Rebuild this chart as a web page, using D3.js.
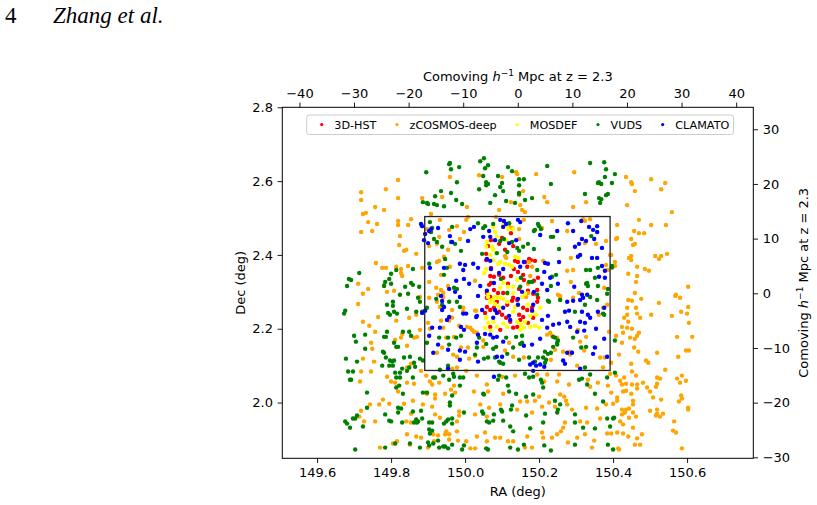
<!DOCTYPE html>
<html>
<head>
<meta charset="utf-8">
<title>COSMOS spectroscopic surveys</title>
<script src="https://cdnjs.cloudflare.com/ajax/libs/d3/7.8.5/d3.min.js"></script>
<style>
  body { margin: 0; background: #fff; }
  svg { display: block; }
  .tick text { font-family: "DejaVu Sans", sans-serif; font-size: 13px; fill: #000; }
  .tick line { stroke: #000; stroke-width: 0.9; }
</style>
</head>
<body>
<script>
// axis limits and ticks
const raLim = [149.506, 150.779];
const decLim = [1.849, 2.8];
const mpcXLim = [-43.14, 43.14];
const mpcYLim = [-30.18, 34.02];
const raTicks = [149.6, 149.8, 150.0, 150.2, 150.4, 150.6];
const decTicks = [2.0, 2.2, 2.4, 2.6, 2.8];
const mpcXTicks = [-40, -30, -20, -10, 0, 10, 20, 30, 40];
const mpcYTicks = [-30, -20, -10, 0, 10, 20, 30];
const boxRA = [149.891, 150.392];
const boxDec = [2.087, 2.504];

const surveys = ["3D-HST", "zCOSMOS-deep", "MOSDEF", "VUDS", "CLAMATO"];
const colors = ["#ff0000", "#ffa500", "#ffff00", "#008000", "#0000ff"];

// [RA, Dec] per survey
const hst3d = [[150.124,2.459],[150.100,2.446],[150.092,2.430],[150.070,2.440],[150.062,2.424],[150.130,2.424],[150.108,2.414],[150.057,2.403],[150.057,2.386],[150.068,2.343],[150.070,2.365],[150.078,2.341],[150.092,2.346],[150.103,2.338],[150.070,2.324],[150.065,2.319],[150.078,2.305],[150.089,2.297],[150.135,2.384],[150.143,2.381],[150.162,2.381],[150.173,2.389],[150.178,2.386],[150.189,2.384],[150.168,2.368],[150.132,2.362],[150.143,2.354],[150.157,2.346],[150.124,2.343],[150.116,2.322],[150.186,2.330],[150.197,2.338],[150.195,2.305],[150.170,2.303],[150.184,2.295],[150.059,2.297],[150.068,2.286],[150.103,2.297],[150.130,2.284],[150.146,2.308],[150.159,2.332],[150.059,2.284],[150.073,2.278],[150.086,2.273],[150.059,2.259],[150.054,2.243],[150.068,2.251],[150.078,2.257],[150.092,2.246],[150.100,2.238],[150.114,2.265],[150.127,2.276],[150.141,2.278],[150.157,2.257],[150.168,2.251],[150.157,2.232],[150.195,2.273],[150.197,2.284],[150.122,2.219],[150.130,2.203],[150.141,2.205],[150.095,2.197],[150.068,2.205],[150.181,2.257],[150.184,2.230],[150.170,2.216],[150.149,2.224],[150.146,2.238],[150.111,2.230]];

const zcosmos = [[149.959,2.611],[149.819,2.603],[150.038,2.616],[149.786,2.578],[149.719,2.570],[149.719,2.549],[149.819,2.554],[149.884,2.554],[149.938,2.557],[149.757,2.530],[149.781,2.522],[149.732,2.514],[149.724,2.511],[150.005,2.530],[149.908,2.511],[149.854,2.497],[149.819,2.492],[149.738,2.489],[149.762,2.484],[149.819,2.481],[149.846,2.481],[150.003,2.495],[150.008,2.503],[149.749,2.465],[149.719,2.462],[149.897,2.470],[149.932,2.495],[149.957,2.468],[149.978,2.478],[149.997,2.462],[149.930,2.449],[149.824,2.451],[149.986,2.443],[149.822,2.427],[149.924,2.430],[149.903,2.424],[149.841,2.414],[149.835,2.411],[149.868,2.403],[149.954,2.414],[149.943,2.395],[149.930,2.384],[149.924,2.381],[149.959,2.368],[149.759,2.378],[149.846,2.370],[149.776,2.365],[149.786,2.365],[149.814,2.368],[149.827,2.362],[149.827,2.351],[149.830,2.343],[149.935,2.346],[149.884,2.365],[149.903,2.327],[150.027,2.330],[149.711,2.322],[149.738,2.308],[149.808,2.303],[149.781,2.319],[149.789,2.300],[149.724,2.295],[149.922,2.311],[149.935,2.305],[149.941,2.297],[149.954,2.316],[149.927,2.292],[149.941,2.286],[149.903,2.284],[149.878,2.286],
[150.100,2.611],[150.138,2.624],[150.141,2.619],[150.192,2.619],[150.295,2.624],[150.157,2.573],[150.146,2.562],[150.124,2.543],[150.149,2.535],[150.214,2.557],[150.222,2.543],[150.327,2.543],[150.292,2.530],[150.092,2.522],[150.154,2.522],[150.162,2.516],[150.084,2.503],[150.159,2.495],[150.235,2.492],[150.319,2.497],[150.324,2.492],[150.338,2.497],[150.208,2.473],[150.276,2.465],[150.324,2.432],[150.354,2.430],[150.381,2.438],[150.286,2.392],[150.292,2.359],[150.276,2.357],[150.381,2.373],[150.408,2.443],[150.411,2.481],[150.392,2.400],[150.386,2.359],[150.251,2.292],[150.257,2.286],[150.286,2.327],[150.308,2.297],[150.376,2.311],[150.170,2.297],[150.127,2.473],[150.119,2.478],[150.146,2.470],[150.146,2.443],[150.211,2.384],[150.173,2.381],[150.181,2.368],[150.108,2.397],[150.111,2.392],[150.170,2.322],[150.176,2.343],[150.165,2.286],
[150.435,2.611],[150.449,2.597],[150.451,2.592],[150.503,2.605],[150.541,2.595],[150.459,2.573],[150.530,2.578],[150.438,2.535],[150.559,2.516],[150.470,2.495],[150.503,2.481],[150.543,2.481],[150.457,2.465],[150.470,2.459],[150.484,2.459],[150.411,2.446],[150.449,2.443],[150.459,2.430],[150.454,2.427],[150.395,2.400],[150.449,2.397],[150.443,2.392],[150.449,2.386],[150.514,2.397],[150.530,2.397],[150.524,2.389],[150.546,2.403],[150.405,2.381],[150.405,2.370],[150.465,2.368],[150.486,2.362],[150.497,2.357],[150.441,2.349],[150.465,2.343],[150.462,2.327],[150.603,2.314],[150.459,2.297],[150.570,2.292],[150.581,2.284],[150.476,2.281],[150.441,2.278],
[149.711,2.267],[149.765,2.232],[149.814,2.222],[149.868,2.238],[149.849,2.230],[149.724,2.219],[149.741,2.208],[149.757,2.192],[149.830,2.186],[149.827,2.176],[149.878,2.197],[149.870,2.178],[149.862,2.176],[149.746,2.162],[149.749,2.146],[149.811,2.170],[149.843,2.154],[149.724,2.119],[149.754,2.111],[149.854,2.105],[149.843,2.095],[149.881,2.086],[149.719,2.084],[149.746,2.084],[149.716,2.057],[149.789,2.070],[149.800,2.057],[149.811,2.054],[149.843,2.054],[149.862,2.051],[149.895,2.073],[149.905,2.057],[149.911,2.049],[149.930,2.054],[149.892,2.027],[149.897,2.024],[149.819,2.030],[149.919,2.022],[149.919,2.011],[149.946,2.024],[149.962,2.035],[149.970,2.046],[149.973,2.027],[149.778,2.008],[149.743,1.995],[149.768,1.995],[149.795,1.997],[149.835,1.997],[149.886,1.995],[149.859,2.005],[149.719,1.978],[149.714,1.962],[149.727,1.949],[149.757,1.949],[149.854,1.970],[149.841,1.949],[149.854,1.946],[149.911,1.989],[149.932,1.959],[149.919,1.968],[149.984,1.976],[149.984,1.965],[149.978,1.949],[149.949,1.922],[149.946,1.914],[149.927,1.911],[149.957,1.914],[149.978,1.922],[149.843,1.914],[149.868,1.908],[149.881,1.905],[149.914,1.914],[149.816,1.895],[149.805,1.889],[149.851,1.886],[149.916,1.895],[149.957,1.900],[149.981,1.897],[149.770,1.878],[149.900,1.878],[150.003,1.895],[150.014,1.876],[150.032,1.908],[150.024,2.030],[150.030,2.249],[149.995,2.257],[149.965,2.230],[149.935,2.222],[149.941,2.203],[150.005,2.205],[150.014,2.203],[149.900,2.216],[149.905,2.200],[149.949,2.176],[149.970,2.178],[149.968,2.130],[149.978,2.124],[150.011,2.119],[150.027,2.127],[149.938,2.149],[149.924,2.135],[149.989,2.149],[150.008,2.149],[149.965,2.092],[149.978,2.095],[150.003,2.086],[149.924,2.273],[149.932,2.259],[149.995,2.246],[149.965,2.251],[149.957,2.222],[149.984,2.208],[150.024,2.192],[150.032,2.189],
[150.027,2.249],[150.019,2.197],[150.049,2.168],[150.049,2.151],[150.119,2.162],[150.108,2.141],[150.130,2.124],[150.159,2.122],[150.235,2.181],[150.249,2.176],[150.243,2.143],[150.265,2.138],[150.284,2.138],[150.284,2.130],[150.322,2.141],[150.311,2.165],[150.327,2.178],[150.365,2.122],[150.378,2.122],[150.373,2.257],[150.384,2.265],[150.292,2.284],[150.338,2.286],[150.362,2.238],[150.389,2.192],[150.305,2.197],[150.303,2.100],[150.373,2.095],[150.230,2.189],[150.222,2.184],[150.232,2.116],[150.100,2.070],[150.257,2.289],
[150.032,2.073],[150.059,2.049],[150.062,2.030],[150.103,2.024],[150.135,2.073],[150.195,2.076],[150.222,2.076],[150.254,2.076],[150.214,2.057],[150.249,2.057],[150.281,2.049],[150.332,2.062],[150.338,2.043],[150.359,2.054],[150.386,2.046],[150.408,2.073],[150.411,2.005],[150.149,2.003],[150.168,2.003],[150.189,2.005],[150.200,2.016],[150.257,2.022],[150.268,2.016],[150.273,2.005],[150.141,1.981],[150.095,1.995],[150.065,1.986],[150.041,1.995],[150.027,1.968],[150.059,1.962],[150.181,1.973],[150.208,1.989],[150.227,2.000],[150.243,1.989],[150.276,1.995],[150.289,1.981],[150.327,1.986],[150.357,1.984],[150.381,1.995],[150.311,1.949],[150.330,1.946],[150.365,1.957],[150.270,1.946],[150.265,1.932],[150.259,1.922],[150.249,1.914],[150.235,1.905],[150.208,1.919],[150.211,1.905],[150.168,1.908],[150.130,1.895],[150.116,1.895],[150.095,1.905],[150.054,1.919],[150.059,1.895],[150.027,1.876],[150.081,1.905],[150.162,1.878],[150.181,1.878],[150.278,1.892],[150.303,1.905],[150.324,1.914],[150.349,1.897],[150.384,1.916],[150.411,1.919],[150.414,1.876],[150.343,1.878],
[150.451,2.276],[150.524,2.270],[150.568,2.289],[150.438,2.257],[150.462,2.257],[150.603,2.259],[150.584,2.246],[150.600,2.241],[150.559,2.235],[150.503,2.238],[150.438,2.238],[150.465,2.241],[150.430,2.230],[150.473,2.230],[150.441,2.219],[150.605,2.216],[150.424,2.205],[150.438,2.203],[150.451,2.200],[150.427,2.189],[150.408,2.181],[150.470,2.189],[150.465,2.181],[150.446,2.176],[150.459,2.173],[150.573,2.178],[150.614,2.178],[150.424,2.162],[150.457,2.149],[150.468,2.138],[150.519,2.135],[150.597,2.141],[150.605,2.141],[150.416,2.130],[150.576,2.124],[150.395,2.108],[150.489,2.114],[150.495,2.108],[150.449,2.105],[150.541,2.089],[150.451,2.084],[150.392,2.078],[150.430,2.068],[150.462,2.073],[150.519,2.068],[150.527,2.065],[150.586,2.073],[150.573,2.065],[150.597,2.059],[150.419,2.059],[150.435,2.051],[150.424,2.049],[150.481,2.054],[150.519,2.051],[150.581,2.054],[150.451,2.049],[150.465,2.049],[150.465,2.038],[150.492,2.041],[150.500,2.030],[150.516,2.043],[150.435,2.032],[150.427,2.030],[150.395,2.027],[150.449,2.024],[150.508,2.014],[150.411,2.014],[150.454,2.005],[150.530,2.008],[150.584,2.019],[150.586,2.011],[150.578,2.003],[150.400,1.997],[150.454,1.995],[150.603,1.986],[150.603,1.981],[150.424,1.981],[150.435,1.981],[150.443,1.984],[150.432,1.973],[150.454,1.973],[150.500,1.978],[150.519,1.981],[150.519,1.970],[150.535,1.970],[150.516,1.965],[150.527,1.962],[150.424,1.968],[150.443,1.959],[150.462,1.962],[150.419,1.949],[150.427,1.941],[150.454,1.932],[150.565,1.949],[150.562,1.924],[150.570,1.919],[150.395,1.916],[150.427,1.916],[150.441,1.908],[150.478,1.914],[150.465,1.903],[150.459,1.886],[150.473,1.886],[150.586,1.876],[150.416,1.873]];

const mosdef = [[150.076,2.476],[150.081,2.462],[150.103,2.484],[150.114,2.481],[150.086,2.449],[150.059,2.435],[150.057,2.422],[150.073,2.422],[150.076,2.414],[150.084,2.405],[150.068,2.400],[150.076,2.386],[150.095,2.381],[150.089,2.376],[150.108,2.376],[150.119,2.373],[150.127,2.368],[150.135,2.395],[150.143,2.392],[150.057,2.362],[150.051,2.351],[150.116,2.314],[150.095,2.311],[150.103,2.324],[150.130,2.314],[150.141,2.332],[150.062,2.297],[150.081,2.286],[150.095,2.284],[150.073,2.278],[150.114,2.295],[150.130,2.297],[150.154,2.286],[150.162,2.295],[150.116,2.470],[150.130,2.470],[150.111,2.440],[150.062,2.286],[150.068,2.273],[150.081,2.267],[150.086,2.284],[150.103,2.281],[150.114,2.273],[150.057,2.230],[150.062,2.216],[150.054,2.203],[150.076,2.219],[150.086,2.205],[150.070,2.195],[150.103,2.214],[150.114,2.205],[150.141,2.219],[150.151,2.211],[150.162,2.219],[150.176,2.205],[150.189,2.208],[150.200,2.203],[150.159,2.203],[150.149,2.197],[150.176,2.235],[150.184,2.246],[150.170,2.265],[150.203,2.257],[150.192,2.238],[150.130,2.246],[150.135,2.259],[150.092,2.259]];

const vuds = [[149.957,2.646],[149.959,2.649],[149.984,2.638],[149.962,2.632],[149.895,2.624],[149.978,2.597],[150.041,2.654],[150.038,2.578],[149.935,2.573],[149.962,2.568],[149.919,2.559],[149.976,2.549],[149.886,2.543],[149.897,2.541],[149.900,2.538],[149.916,2.538],[149.924,2.535],[149.943,2.532],[149.992,2.538],[149.905,2.489],[150.035,2.486],[149.911,2.473],[149.908,2.462],[149.965,2.476],[149.916,2.443],[149.924,2.435],[149.962,2.435],[149.973,2.430],[149.938,2.422],[149.989,2.411],[149.946,2.389],[149.903,2.376],[149.951,2.365],[149.714,2.351],[149.814,2.359],[149.859,2.362],[149.800,2.349],[149.795,2.335],[149.943,2.346],[149.686,2.335],[149.692,2.332],[149.681,2.316],[149.784,2.327],[149.781,2.316],[149.800,2.322],[149.854,2.324],[149.859,2.319],[149.838,2.314],[149.876,2.314],[149.824,2.292],[149.846,2.295],[149.873,2.284],[149.970,2.311],[149.978,2.308],
[150.051,2.662],[150.062,2.643],[150.054,2.635],[150.049,2.614],[150.089,2.614],[150.116,2.638],[150.127,2.627],[150.222,2.641],[150.338,2.649],[150.376,2.651],[150.381,2.632],[150.405,2.619],[150.057,2.597],[150.062,2.592],[150.057,2.589],[150.100,2.595],[150.146,2.605],[150.159,2.605],[150.146,2.589],[150.095,2.584],[150.103,2.573],[150.232,2.592],[150.359,2.595],[150.362,2.597],[150.368,2.592],[150.378,2.611],[150.397,2.595],[150.146,2.568],[150.146,2.565],[150.081,2.562],[150.324,2.565],[150.381,2.562],[150.386,2.565],[150.362,2.554],[150.368,2.551],[150.365,2.541],[150.111,2.546],[150.135,2.541],[150.162,2.549],[150.181,2.554],[150.068,2.541],
[150.054,2.478],[150.049,2.473],[150.076,2.484],[150.119,2.486],[150.197,2.484],[150.200,2.478],[150.189,2.468],[150.186,2.465],[150.205,2.470],[150.105,2.443],[150.095,2.438],[150.127,2.435],[150.141,2.419],[150.146,2.411],[150.157,2.422],[150.186,2.416],[150.170,2.430],[150.254,2.416],[150.232,2.449],[150.238,2.449],[150.341,2.451],[150.327,2.359],[150.338,2.359],[150.359,2.365],[150.397,2.370],[150.397,2.366],[150.246,2.346],[150.235,2.341],[150.195,2.359],[150.181,2.327],[150.173,2.327],[150.151,2.338],[150.046,2.403],[150.114,2.408],[150.086,2.405],[150.351,2.338],[150.330,2.324],[150.327,2.322],[150.332,2.316],[150.359,2.316],[150.386,2.308],[150.384,2.295],[150.338,2.286],[150.232,2.316],[150.149,2.314],[150.195,2.292],[150.114,2.297],[150.097,2.335],
[149.676,2.249],[149.673,2.241],[149.789,2.265],[149.805,2.273],[149.805,2.262],[149.792,2.243],[149.797,2.238],[149.808,2.246],[149.816,2.241],[149.843,2.254],[149.878,2.273],[149.868,2.246],[149.884,2.246],[149.897,2.257],[149.922,2.281],[149.957,2.273],[149.938,2.265],[149.978,2.273],[149.986,2.259],
[149.700,2.181],[149.705,2.165],[149.730,2.184],[149.730,2.146],[149.781,2.178],[149.786,2.178],[149.789,2.192],[149.832,2.192],[149.849,2.192],[149.854,2.181],[149.808,2.162],[149.814,2.151],[149.819,2.151],[149.778,2.138],[149.781,2.135],[149.797,2.114],[149.803,2.111],[149.808,2.114],[149.786,2.122],[149.835,2.122],[149.851,2.124],[149.878,2.119],[149.886,2.114],[149.862,2.108],[149.865,2.097],[149.795,2.100],[149.776,2.100],[149.805,2.100],[149.830,2.092],[149.849,2.095],[149.843,2.086],[149.678,2.119],[149.708,2.111],[149.684,2.084],[149.697,2.084],[149.689,2.062],[149.692,2.062],[149.811,2.081],[149.824,2.081],[149.814,2.068],[149.824,2.068],[149.859,2.068],[149.822,2.046],[149.814,2.041],[149.832,2.024],[149.735,2.027],[149.886,2.027],[149.897,2.027],[149.930,2.176],[149.954,2.176],[149.976,2.176],[149.989,2.181],[149.897,2.162],[149.957,2.157],[149.954,2.100],[149.914,2.068],[149.919,2.068],[149.941,2.073],[149.957,2.062],[149.970,2.070],[149.986,2.068],[149.995,2.068],[149.932,2.089],[149.968,2.078],[149.986,2.046],[149.965,2.019],[149.959,1.992],[149.959,2.000],[149.735,1.986],[149.708,1.965],[149.703,1.957],[149.697,1.957],[149.676,1.949],[149.681,1.943],[149.689,1.932],[149.724,1.935],[149.784,1.968],[149.795,1.951],[149.800,1.949],[149.819,1.986],[149.827,1.984],[149.819,1.973],[149.859,1.976],[149.881,1.978],[149.868,1.954],[149.873,1.949],[149.862,1.946],[149.870,1.946],[149.884,1.957],[149.830,1.946],[149.903,1.946],[149.911,1.946],[149.903,1.927],[149.911,1.924],[149.943,1.943],[149.949,1.949],[149.954,1.954],[149.965,1.943],[149.965,1.957],[149.997,1.973],[149.900,1.892],[149.903,1.884],[149.878,1.878],[149.946,1.881],[149.930,1.878],[149.941,1.881],[149.965,1.886],[149.954,1.876],[149.997,1.884],[149.992,1.873],[149.703,1.873],[149.927,1.897],[149.905,1.916],[149.784,1.878],[149.811,1.889],[149.851,1.889],[149.914,1.889],
[150.038,2.176],[150.032,2.149],[150.027,2.130],[150.057,2.159],[150.076,2.146],[150.084,2.151],[150.111,2.176],[150.138,2.178],[150.154,2.181],[150.149,2.159],[150.154,2.162],[150.114,2.132],[150.130,2.149],[150.062,2.122],[150.051,2.119],[150.081,2.122],[150.092,2.111],[150.095,2.108],[150.103,2.105],[150.146,2.116],[150.197,2.122],[150.211,2.122],[150.216,2.138],[150.224,2.132],[150.232,2.135],[150.238,2.151],[150.249,2.157],[150.249,2.162],[150.251,2.168],[150.238,2.178],[150.243,2.176],[150.224,2.276],[150.227,2.273],[150.257,2.278],[150.297,2.246],[150.324,2.265],[150.357,2.278],[150.373,2.241],[150.376,2.238],[150.292,2.176],[150.314,2.149],[150.327,2.151],[150.189,2.111],[150.216,2.108],[150.219,2.116],[150.324,2.095],[150.173,2.122],[150.405,2.168],
[150.092,2.073],[150.089,2.062],[150.111,2.068],[150.162,2.078],[150.173,2.068],[150.184,2.070],[150.116,2.046],[150.119,2.030],[150.205,2.062],[150.208,2.054],[150.308,2.062],[150.316,2.065],[150.338,2.076],[150.330,2.049],[150.384,2.068],[150.211,2.041],[150.051,2.022],[150.049,2.024],[150.138,2.024],[150.165,2.016],[150.184,2.022],[150.243,2.005],[150.257,1.995],[150.127,1.992],[150.124,1.981],[150.046,1.976],[150.049,1.970],[150.100,1.976],[150.097,1.981],[150.078,1.968],[150.065,1.946],[150.059,1.949],[150.076,1.951],[150.103,1.951],[150.216,1.970],[150.251,1.981],[150.249,1.973],[150.297,1.968],[150.297,1.946],[150.351,2.024],[150.373,2.003],[150.400,1.957],[150.403,1.959],[150.384,1.957],[150.211,1.946],[150.165,1.965],[150.122,1.935],[150.130,1.922],[150.176,1.930],[150.319,1.932],[150.351,1.930],[150.392,1.935],[150.057,1.876],[150.062,1.873],[150.122,1.878],[150.143,1.873],[150.159,1.886],[150.214,1.884],[150.232,1.870],[150.297,1.886],[150.400,1.873],[150.386,1.886],[150.405,2.081]];

const clamato = [[149.881,2.484],[149.884,2.478],[149.903,2.465],[149.908,2.470],[149.927,2.473],[149.892,2.457],[149.889,2.440],[149.900,2.432],[149.959,2.451],[149.965,2.435],[150.008,2.438],[150.014,2.470],[150.024,2.476],[149.986,2.376],[150.000,2.373],[150.022,2.376],[150.035,2.365],[149.943,2.365],[149.905,2.365],[149.995,2.359],[149.976,2.330],[149.997,2.335],[150.011,2.322],[150.041,2.316],[149.957,2.308],[149.973,2.300],[149.986,2.286],[150.035,2.289],[149.935,2.289],
[150.095,2.495],[150.105,2.492],[150.143,2.495],[150.149,2.489],[150.065,2.465],[150.049,2.449],[150.068,2.449],[150.081,2.440],[150.103,2.476],[150.111,2.484],[150.138,2.440],[150.119,2.432],[150.278,2.486],[150.314,2.492],[150.335,2.476],[150.346,2.468],[150.357,2.478],[150.357,2.462],[150.249,2.465],[150.203,2.454],[150.292,2.465],[150.316,2.443],[150.327,2.438],[150.349,2.443],[150.308,2.430],[150.297,2.422],[150.370,2.419],[150.311,2.400],[150.305,2.395],[150.343,2.392],[150.357,2.392],[150.254,2.381],[150.216,2.378],[150.224,2.376],[150.059,2.389],[150.068,2.384],[150.159,2.381],[150.149,2.368],[150.103,2.362],[150.070,2.362],[150.092,2.351],[150.214,2.354],[150.230,2.338],[150.370,2.370],[150.378,2.357],[150.362,2.341],[150.378,2.338],[150.208,2.322],[150.251,2.322],[150.078,2.324],[150.222,2.305],[150.186,2.300],[150.059,2.303],[150.154,2.300],[150.316,2.292],[150.330,2.292],[150.295,2.314],
[149.938,2.275],[149.943,2.259],[149.938,2.251],[149.892,2.249],[149.884,2.243],[149.995,2.241],[150.003,2.241],[150.032,2.235],[149.957,2.232],[149.951,2.224],[149.989,2.205],[149.932,2.203],[149.911,2.203],[149.997,2.197],[149.903,2.181],[150.035,2.184],[149.927,2.157],[149.954,2.143],[149.914,2.135],[149.986,2.141],[149.986,2.116],[150.000,2.138],[149.954,2.092],
[150.046,2.251],[150.030,2.232],[150.081,2.251],[150.086,2.243],[150.076,2.230],[150.103,2.257],[150.119,2.235],[150.122,2.224],[150.143,2.281],[150.143,2.265],[150.181,2.249],[150.184,2.265],[150.208,2.224],[150.224,2.235],[150.276,2.273],[150.292,2.276],[150.311,2.278],[150.319,2.284],[150.270,2.246],[150.281,2.249],[150.316,2.246],[150.332,2.238],[150.338,2.230],[150.359,2.246],[150.376,2.257],[150.238,2.211],[150.254,2.214],[150.276,2.219],[150.284,2.205],[150.311,2.219],[150.324,2.216],[150.303,2.192],[150.322,2.195],[150.354,2.200],[150.222,2.203],[150.054,2.186],[150.068,2.184],[150.076,2.176],[150.086,2.178],[150.103,2.165],[150.032,2.162],[150.203,2.173],[150.159,2.154],[150.181,2.157],[150.376,2.173],[150.351,2.149],[150.289,2.135],[150.276,2.135],[150.346,2.132],[150.384,2.124],[150.100,2.124],[150.086,2.124],[150.035,2.111],[150.265,2.114],[150.270,2.105],[150.176,2.103],[150.184,2.108],[150.192,2.100],[150.203,2.103],[150.214,2.097],[150.311,2.092],[150.184,2.086],[150.078,2.070]];

const series = [hst3d, zcosmos, mosdef, vuds, clamato];

// layout (px)
const W = 817, H = 505;
const plot = {left: 282.3, right: 753.3, top: 107.3, bottom: 458.3};
const font = '"DejaVu Sans", sans-serif';

const svg = d3.select("body").append("svg").attr("width", W).attr("height", H);

// page header
svg.append("text").attr("x", 5).attr("y", 23)
  .attr("font-family", '"Liberation Serif", serif').attr("font-size", 23).text("4");
svg.append("text").attr("x", 53).attr("y", 23)
  .attr("font-family", '"Liberation Serif", serif').attr("font-size", 23)
  .attr("font-style", "italic").text("Zhang et al.");

const x = d3.scaleLinear().domain(raLim).range([plot.left, plot.right]);
const y = d3.scaleLinear().domain(decLim).range([plot.bottom, plot.top]);
const xTop = d3.scaleLinear().domain(mpcXLim).range([plot.left, plot.right]);
const yRight = d3.scaleLinear().domain(mpcYLim).range([plot.bottom, plot.top]);

// clip for the scatter
svg.append("clipPath").attr("id", "clip").append("rect")
  .attr("x", plot.left).attr("y", plot.top)
  .attr("width", plot.right - plot.left).attr("height", plot.bottom - plot.top);

const pts = svg.append("g").attr("clip-path", "url(#clip)");
series.forEach((s, i) => {
  pts.append("g").selectAll("circle").data(s).enter().append("circle")
    .attr("cx", d => x(d[0])).attr("cy", d => y(d[1]))
    .attr("r", 2.2).attr("fill", colors[i]);
});

// CLAMATO footprint
svg.append("rect")
  .attr("x", x(boxRA[0])).attr("y", y(boxDec[1]))
  .attr("width", x(boxRA[1]) - x(boxRA[0])).attr("height", y(boxDec[0]) - y(boxDec[1]))
  .attr("fill", "none").attr("stroke", "#222").attr("stroke-width", 1.3);

// axes
const tk = 4.7, pad = 4.7;
function styleAxis(g) {
  g.select(".domain").remove();
  g.selectAll(".tick text").attr("font-family", null).attr("font-size", null);
}
svg.append("g").attr("transform", `translate(0,${plot.bottom})`)
  .call(d3.axisBottom(x).tickValues(raTicks).tickFormat(d3.format(".1f")).tickSize(tk).tickPadding(pad))
  .call(styleAxis);
svg.append("g").attr("transform", `translate(${plot.left},0)`)
  .call(d3.axisLeft(y).tickValues(decTicks).tickFormat(d3.format(".1f")).tickSize(tk).tickPadding(pad))
  .call(styleAxis);
svg.append("g").attr("transform", `translate(0,${plot.top})`)
  .call(d3.axisTop(xTop).tickValues(mpcXTicks).tickFormat(d3.format("d")).tickSize(tk).tickPadding(pad))
  .call(styleAxis);
svg.append("g").attr("transform", `translate(${plot.right},0)`)
  .call(d3.axisRight(yRight).tickValues(mpcYTicks).tickFormat(d3.format("d")).tickSize(tk).tickPadding(pad))
  .call(styleAxis);

// frame
svg.append("rect").attr("x", plot.left).attr("y", plot.top)
  .attr("width", plot.right - plot.left).attr("height", plot.bottom - plot.top)
  .attr("fill", "none").attr("stroke", "#000").attr("stroke-width", 1);

// axis titles
svg.append("text").attr("x", (plot.left + plot.right) / 2).attr("y", 496)
  .attr("text-anchor", "middle").attr("font-family", font).attr("font-size", 13).text("RA (deg)");
svg.append("text").attr("transform", `translate(245,${(plot.top + plot.bottom) / 2}) rotate(-90)`)
  .attr("text-anchor", "middle").attr("font-family", font).attr("font-size", 13).text("Dec (deg)");

function comovingLabel(t) {
  t.attr("text-anchor", "middle").attr("font-family", font).attr("font-size", 13);
  t.append("tspan").text("Comoving ");
  t.append("tspan").attr("font-style", "italic").text("h");
  t.append("tspan").attr("font-size", 9).attr("dy", -5).text("\u22121");
  t.append("tspan").attr("dy", 5).text(" Mpc at z = 2.3");
}
svg.append("text").attr("x", (plot.left + plot.right) / 2).attr("y", 81).call(comovingLabel);
svg.append("text").attr("transform", `translate(808,${(plot.top + plot.bottom) / 2}) rotate(-90)`)
  .call(comovingLabel);

// legend
const leg = svg.append("g");
const legBox = leg.append("rect").attr("x", 306.7).attr("y", 115).attr("height", 19.5)
  .attr("rx", 2.5).attr("fill", "#fff").attr("fill-opacity", 0.8)
  .attr("stroke", "#cccccc").attr("stroke-width", 1);
let cx = 321.7;
surveys.forEach((name, i) => {
  leg.append("circle").attr("cx", cx).attr("cy", 124.6).attr("r", 1.6).attr("fill", colors[i]);
  const t = leg.append("text").attr("x", cx + 12.6).attr("y", 128.5)
    .attr("font-family", font).attr("font-size", 11.2).text(name);
  const end = cx + 12.6 + t.node().getComputedTextLength();
  if (i === surveys.length - 1) legBox.attr("width", end + 4.3 - 306.7);
  cx = end + 20.5;
});
</script>
</body>
</html>
